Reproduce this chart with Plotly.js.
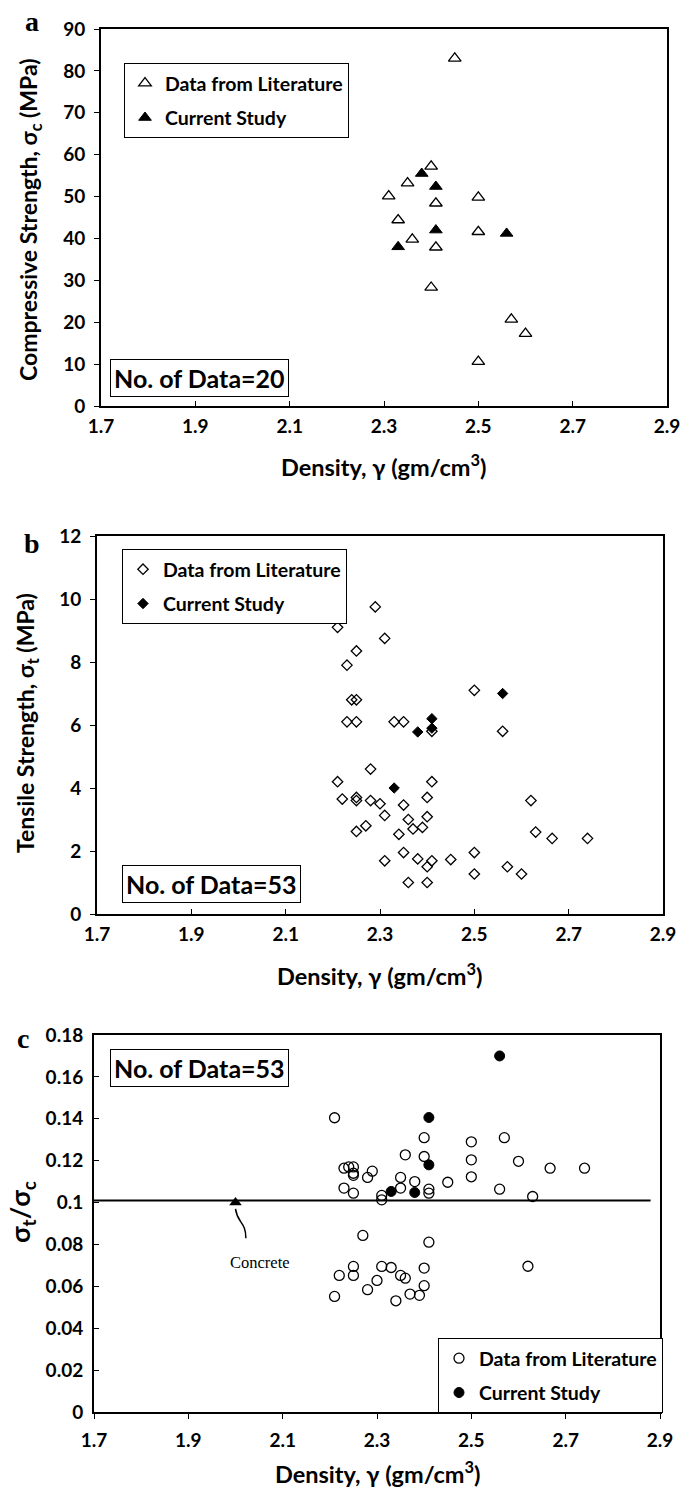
<!DOCTYPE html>
<html>
<head>
<meta charset="utf-8">
<script src="https://cdn.plot.ly/plotly-3.0.1.min.js"></script>
<style>
  html, body { margin: 0; padding: 0; background: #fff; }
  #chart { width: 685px; height: 1490px; }
</style>
</head>
<body>
<div id="chart"></div>
<script>
// ---- data ----
// a: compressive strength vs density
const aLitX = [2.45, 2.40, 2.35, 2.31, 2.41, 2.50, 2.33, 2.50, 2.36, 2.41, 2.40, 2.57, 2.60, 2.50];
const aLitY = [83.0, 57.2, 53.2, 50.1, 48.4, 49.8, 44.4, 41.6, 39.8, 37.9, 28.3, 20.7, 17.3, 10.6];
const aCurX = [2.38, 2.41, 2.41, 2.33, 2.56];
const aCurY = [55.5, 52.4, 42.0, 38.0, 41.2];

// b: tensile strength vs density
const bLitX = [2.29, 2.21, 2.31, 2.25, 2.23, 2.24, 2.25, 2.23, 2.25, 2.33, 2.35, 2.41, 2.50, 2.56,
               2.28, 2.21, 2.41, 2.22, 2.25, 2.25, 2.28, 2.30, 2.35, 2.40, 2.31, 2.62,
               2.36, 2.40, 2.37, 2.39, 2.27, 2.25, 2.34, 2.63, 2.665, 2.74,
               2.35, 2.50, 2.38, 2.31, 2.41, 2.45, 2.40, 2.57, 2.50, 2.60, 2.36, 2.40];
const bLitY = [9.75, 9.1, 8.75, 8.35, 7.9, 6.8, 6.8, 6.1, 6.1, 6.1, 6.1, 5.8, 7.1, 5.8,
               4.6, 4.2, 4.2, 3.65, 3.7, 3.6, 3.6, 3.5, 3.46, 3.7, 3.13, 3.6,
               3.0, 3.09, 2.7, 2.75, 2.8, 2.62, 2.53, 2.6, 2.4, 2.4,
               1.95, 1.95, 1.75, 1.69, 1.69, 1.73, 1.5, 1.5, 1.27, 1.27, 1.0, 1.0];
const bCurX = [2.38, 2.41, 2.41, 2.33, 2.56];
const bCurY = [5.78, 6.2, 5.9, 4.0, 7.0];

// c: ratio sigma_t / sigma_c vs density
const cLitX = [2.21, 2.40, 2.57, 2.50, 2.36, 2.40, 2.50, 2.60, 2.667, 2.74, 2.23, 2.24, 2.25, 2.25, 2.25,
               2.29, 2.28, 2.35, 2.38, 2.45, 2.50, 2.23, 2.35, 2.41, 2.41, 2.56, 2.25, 2.31, 2.31, 2.63,
               2.27, 2.41, 2.62, 2.25, 2.31, 2.33, 2.40, 2.22, 2.25, 2.35, 2.36, 2.30, 2.28, 2.40,
               2.21, 2.37, 2.39, 2.34];
const cLitY = [0.1405, 0.131, 0.131, 0.129, 0.1228, 0.122, 0.1204, 0.1197, 0.1164, 0.1164, 0.1164, 0.117, 0.117, 0.114, 0.113,
               0.115, 0.112, 0.112, 0.110, 0.1097, 0.1123, 0.1069, 0.1069, 0.1064, 0.1045, 0.1064, 0.1045, 0.1034, 0.1013, 0.1029,
               0.0843, 0.0811, 0.0696, 0.0695, 0.0695, 0.069, 0.0687, 0.0652, 0.0652, 0.0652, 0.0639, 0.0628, 0.0584, 0.0603,
               0.0552, 0.0563, 0.0557, 0.0531];
const cCurX = [2.56, 2.41, 2.41, 2.33, 2.38];
const cCurY = [0.170, 0.1406, 0.118, 0.1053, 0.1048];

const concreteX = [2.0];
const concreteY = [0.1];
const concreteRatio = 0.101;
const concreteLabel = 'Concrete';

const nData = [20, 53, 53];
const panelLetters = ['a', 'b', 'c'];
const xTitle = 'Density, γ (gm/cm<sup>3</sup>)';
const yTitles = ['Compressive Strength, σ<sub>c</sub> (MPa)', 'Tensile Strength, σ<sub>t</sub> (MPa)', 'σ<sub>t</sub>/σ<sub>c</sub>'];

// ---- styling ----
const FONT = 'Lato, "Open Sans", Arial, sans-serif';
const bold = (size) => ({ family: FONT, size: size, color: '#000', weight: 'bold' });

function xAxis(anchor, domain, ticks, standoff) {
  return {
    anchor: anchor, domain: domain, range: [1.7, 2.9], tick0: 1.7, dtick: 0.2,
    showline: true, linecolor: '#000', linewidth: 2, mirror: true,
    ticks: ticks, ticklen: 5, tickcolor: '#000', tickwidth: 1,
    ticklabelstandoff: standoff, showgrid: false, zeroline: false,
    tickfont: bold(19)
  };
}
function yAxis(anchor, domain, range, dtick, ticks) {
  return {
    anchor: anchor, domain: domain, range: range, dtick: dtick,
    showline: true, linecolor: '#000', linewidth: 2, mirror: true,
    ticks: ticks, ticklen: 5, tickcolor: '#000', tickwidth: 1,
    ticklabelstandoff: 5, showgrid: false, zeroline: false,
    tickfont: bold(19)
  };
}

const W = 685, H = 1490;
const px = (x) => x / W;
const py = (y) => 1 - y / H;

function lit(x, y, xa, ya, symbol, size, lg) {
  return { x: x, y: y, xaxis: xa, yaxis: ya, type: 'scatter', mode: 'markers',
    name: 'Data from Literature', legend: lg, legendgroup: lg + 'lit',
    marker: { symbol: symbol + '-open', size: size, color: '#000', line: { width: 1.3, color: '#000' } } };
}
function cur(x, y, xa, ya, symbol, size, lg) {
  return { x: x, y: y, xaxis: xa, yaxis: ya, type: 'scatter', mode: 'markers',
    name: 'Current Study', legend: lg, legendgroup: lg + 'cur',
    marker: { symbol: symbol, size: size, color: '#000', line: { width: 1, color: '#000' } } };
}

const traces = [
  lit(aLitX, aLitY, 'x', 'y', 'triangle-up', 11, 'legend'),
  cur(aCurX, aCurY, 'x', 'y', 'triangle-up', 11, 'legend'),
  lit(bLitX, bLitY, 'x2', 'y2', 'diamond', 8, 'legend2'),
  cur(bCurX, bCurY, 'x2', 'y2', 'diamond', 8, 'legend2'),
  lit(cLitX, cLitY, 'x3', 'y3', 'circle', 10, 'legend3'),
  cur(cCurX, cCurY, 'x3', 'y3', 'circle', 10, 'legend3'),
  { x: concreteX, y: concreteY, xaxis: 'x3', yaxis: 'y3', type: 'scatter', mode: 'markers',
    showlegend: false, marker: { symbol: 'triangle-up', size: 11, color: '#000' } }
];

function legendBox(x, y) {
  return { x: x, y: y, xanchor: 'left', yanchor: 'top', bgcolor: '#fff',
    bordercolor: '#000', borderwidth: 1, font: bold(19.5), itemwidth: 30,
    tracegroupgap: 6, traceorder: 'grouped' };
}

function dataBox(x, y, n) {
  return { xref: 'paper', yref: 'paper', x: x, y: y, xanchor: 'center', yanchor: 'middle',
    showarrow: false, text: 'No. of Data=' + n, font: bold(25), bordercolor: '#000',
    borderwidth: 1, borderpad: 3, bgcolor: '#fff' };
}
function letter(x, y, t) {
  return { xref: 'paper', yref: 'paper', x: x, y: y, xanchor: 'center', yanchor: 'middle',
    showarrow: false, text: '<b>' + t + '</b>',
    font: { family: '"Liberation Serif", "DejaVu Serif", serif', size: 28, color: '#000' } };
}
function axTitle(x, y, t, size, angle) {
  return { xref: 'paper', yref: 'paper', x: x, y: y, xanchor: 'center', yanchor: 'middle',
    showarrow: false, text: t, textangle: angle, font: bold(size) };
}

const layout = {
  width: W, height: H, margin: { l: 0, r: 0, t: 0, b: 0 },
  paper_bgcolor: '#fff', plot_bgcolor: '#fff',
  font: { family: FONT, color: '#000' },
  xaxis: xAxis('y', [px(101), px(667)], 'inside', 2),
  yaxis: yAxis('x', [py(406), py(29)], [0, 90], 10, 'outside'),
  xaxis2: xAxis('y2', [px(97), px(663)], 'inside', 2),
  yaxis2: yAxis('x2', [py(914), py(536)], [0, 12], 2, 'outside'),
  xaxis3: xAxis('y3', [px(94), px(660)], 'outside', 5),
  yaxis3: yAxis('x3', [py(1412), py(1035)], [0, 0.18], 0.02, 'inside'),
  legend: legendBox(px(124), py(63)),
  legend2: legendBox(px(122), py(549)),
  legend3: legendBox(px(438), py(1338)),
  shapes: [
    { type: 'line', xref: 'x3', yref: 'y3', x0: 1.7, x1: 2.88, y0: concreteRatio, y1: concreteRatio,
      line: { color: '#000', width: 2 } },
    { type: 'path', xref: 'x3', yref: 'y3',
      path: 'M 2.022,0.083 C 2.022,0.091 2.004,0.090 2.0,0.097',
      line: { color: '#000', width: 1.5 } }
  ],
  annotations: [
    axTitle(px(384), py(466), xTitle, 23.5, 0),
    axTitle(px(380), py(974), xTitle, 23.5, 0),
    axTitle(px(378), py(1472), xTitle, 23.5, 0),
    axTitle(px(29), py(220), yTitles[0], 23, -90),
    axTitle(px(26), py(723), yTitles[1], 23, -90),
    axTitle(px(21), py(1212), yTitles[2], 27, -90),
    dataBox(px(199), py(378), nData[0]),
    dataBox(px(211), py(884), nData[1]),
    dataBox(px(199), py(1068), nData[2]),
    letter(px(32), py(22), panelLetters[0]),
    letter(px(32), py(543), panelLetters[1]),
    letter(px(23), py(1038), panelLetters[2]),
    { xref: 'x3', yref: 'y3', x: 2.052, y: 0.0716, showarrow: false, text: concreteLabel,
      font: { family: '"Liberation Serif", "DejaVu Serif", serif', size: 16.5, color: '#000' } }
  ]
};

Plotly.newPlot('chart', traces, layout, { displayModeBar: false, staticPlot: true });
</script>
</body>
</html>
